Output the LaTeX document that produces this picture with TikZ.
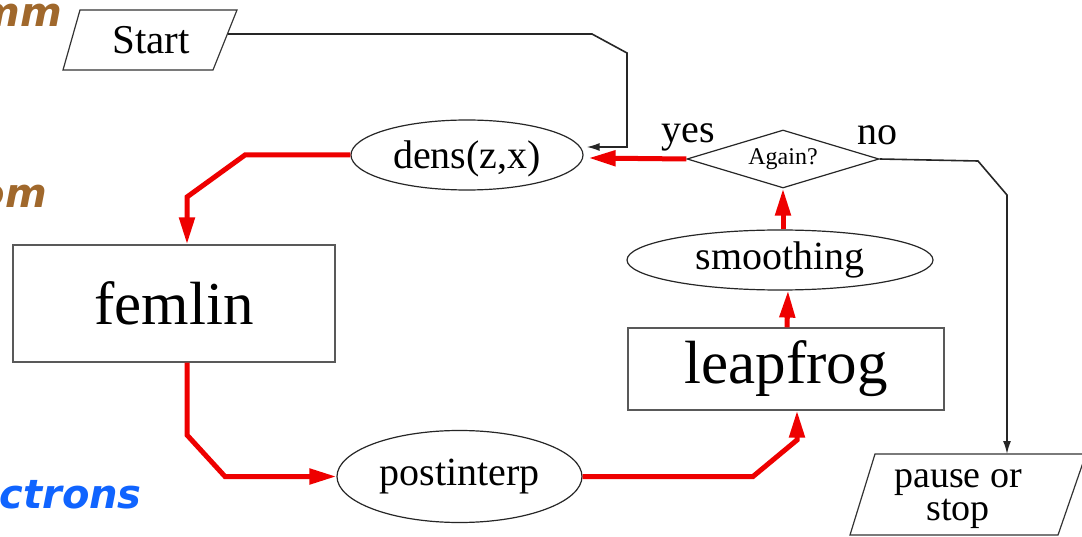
\documentclass[tikz,border=0pt]{standalone}
\usepackage{fontspec}
\setmainfont{Liberation Serif}
\newfontfamily\dvs{DejaVu Sans}
\usetikzlibrary{shapes.geometric,arrows.meta}
\definecolor{redline}{RGB}{238,0,0}
\definecolor{brownt}{RGB}{160,104,44}
\definecolor{bluet}{RGB}{16,100,255}
\begin{document}
\begin{tikzpicture}[x=1pt,y=-1pt,
  redarr/.style={draw=redline,line width=5pt,-{Triangle[length=27pt,width=15pt]},line join=miter},
  blkarr/.style={draw=black!85,line width=1.6pt,-{Latex[length=13pt,width=8pt]}},
  ell/.style={ellipse,draw=black!85,line width=1.2pt,inner sep=0pt,font=\fontsize{40}{44}\selectfont},
  box/.style={rectangle,draw=black!65,line width=1.2pt,inner sep=0pt,font=\fontsize{61}{66}\selectfont},
  io/.style={draw=black!80,line width=1.2pt},
  lbl/.style={inner sep=0pt,font=\fontsize{40}{44}\selectfont},
  cut/.style={inner sep=0pt,anchor=base east,font=\dvs\bfseries\itshape\fontsize{40}{44}\selectfont}]
\useasboundingbox (0,0) rectangle (1082,537);
\clip (0,0) rectangle (1082,537);
\fill[white] (0,0) rectangle (1082,537);

% partial texts at the left edge
\node[cut,text=brownt] (t1) at (62,27) {mm};
\node[cut,text=brownt] (t2) at (47,208) {om};
\node[cut,text=bluet] (t3) at (142,508) {ctrons};

% Start
\draw[io] (80,10) -- (237,10) -- (213,70) -- (63,70) -- cycle;
\node[lbl,font=\fontsize{41}{44}\selectfont] (start) at (151,40) {Start};
\coordinate (startR) at (228,34);

% nodes
\node[ell,minimum width=232pt,minimum height=70pt,text depth=0pt] (dens) at (467,155) {dens(z,x)};
\node[diamond,draw=black!85,line width=1.2pt,aspect=3.3,inner sep=0pt,
      minimum width=192pt,minimum height=58pt,font=\fontsize{24}{26}\selectfont] (again) at (783,159) {Again?};
\node[lbl,anchor=base] (yes) at (688,143) {yes};
\node[lbl,anchor=base] (no) at (877,145) {no};
\node[ell,minimum width=306pt,minimum height=60pt] (smooth) at (780,260) {smoothing};
\node[box,minimum width=316pt,minimum height=82pt] (leap) at (786,369) {leapfrog};
\node[box,minimum width=322pt,minimum height=117pt] (femlin) at (174,303.5) {femlin};
\node[ell,minimum width=245pt,minimum height=92pt] (post) at (459.5,476.5) {postinterp};

% pause or stop
\draw[io] (875,454) -- (1086,454) -- (1058,535) -- (850,535) -- cycle;
\node[lbl,align=center,font=\fontsize{38}{33}\selectfont] (pause) at (958,499) {pause or\\stop};
\coordinate (pauseT) at (1007,454);

% black connectors
\draw[blkarr] (startR) -- (592,34) -- (627,53) -- (627,147) -- ([xshift=3pt,yshift=8pt]dens.east);
\draw[blkarr] (again.east) -- (978,161) -- (1007,195) -- (pauseT);

% red connectors
\draw[redarr] (again.west) -- ([xshift=5pt,yshift=-3pt]dens.east);
\draw[redarr] (dens.west) -- (245,155) -- (187,197) -- ([xshift=13pt]femlin.north);
\draw[redarr] ([xshift=13pt]femlin.south) -- (187,435) -- (225,476.5) -- (post.west);
\draw[redarr] (post.east) -- (753,476.5) -- (797,440) -- ([xshift=11pt]leap.south);
\draw[redarr] ([xshift=1pt]leap.north) -- ([xshift=8pt]smooth.south);
\draw[redarr] ([xshift=3pt]smooth.north) -- (again.south);
\end{tikzpicture}
\end{document}
